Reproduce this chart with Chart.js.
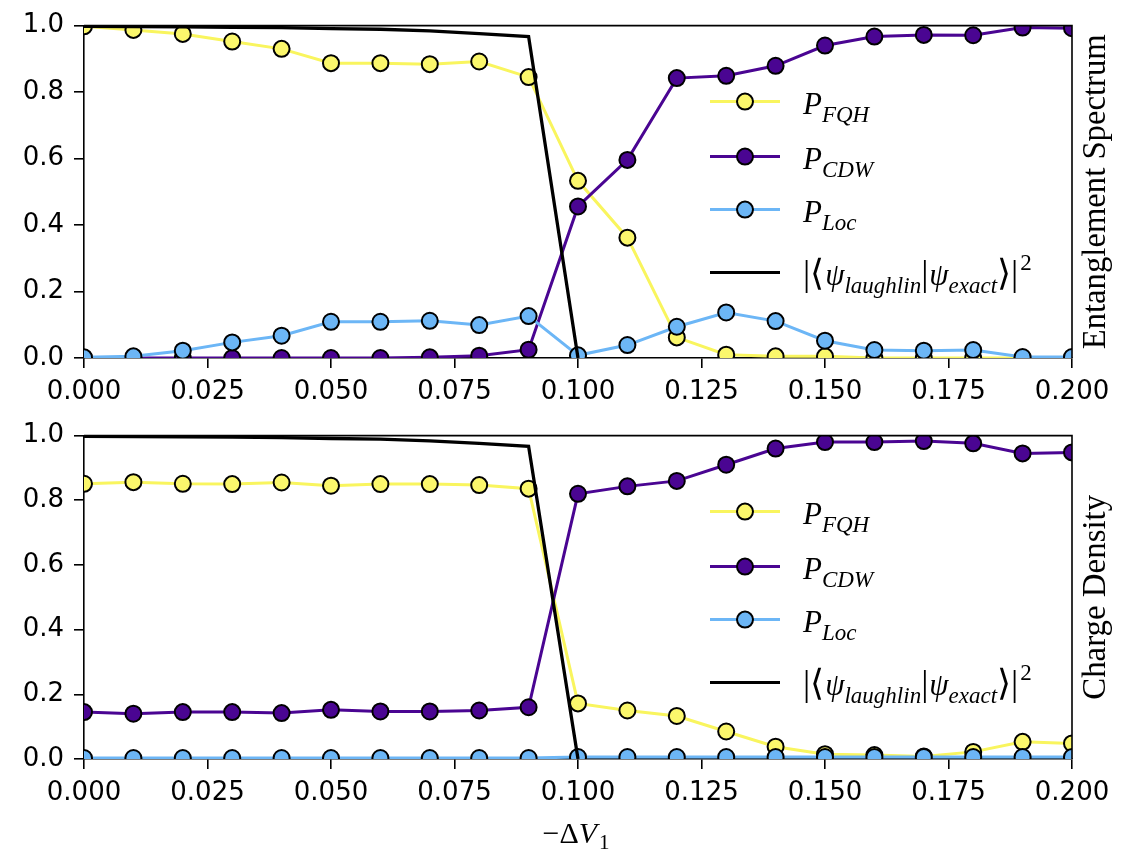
<!DOCTYPE html>
<html>
<head>
<meta charset="utf-8">
<script src="https://cdn.jsdelivr.net/npm/chart.js@4.4.1/dist/chart.umd.min.js"></script>
<style>
  html, body { margin: 0; padding: 0; background: #fff; }
  #wrap { position: relative; width: 1131px; height: 862px; }
  .panel { position: absolute; left: 0; width: 1131px; }
</style>
</head>
<body>
<div id="wrap">
  <div class="panel" style="top:0;height:410px"><canvas id="esChart" width="1131" height="410"></canvas></div>
  <div class="panel" style="top:410px;height:452px"><canvas id="cdChart" width="1131" height="452"></canvas></div>
</div>
<script>
// -dV1 values
const dV = [0, 0.01, 0.02, 0.03, 0.04, 0.05, 0.06, 0.07, 0.08, 0.09, 0.10,
            0.11, 0.12, 0.13, 0.14, 0.15, 0.16, 0.17, 0.18, 0.19, 0.20];

// entanglement spectrum panel
const esFQH = [0.998, 0.987, 0.975, 0.952, 0.930, 0.887, 0.887, 0.884, 0.892, 0.845, 0.533,
               0.362, 0.062, 0.010, 0.005, 0.005, 0.0, 0.0, 0.0, 0.0, 0.0];
const esCDW = [0.0, 0.0, 0.0, 0.0, 0.0, 0.0, 0.0, 0.002, 0.007, 0.025, 0.456,
               0.596, 0.842, 0.849, 0.879, 0.940, 0.967, 0.972, 0.971, 0.994, 0.992];
const esLoc = [0.002, 0.005, 0.022, 0.047, 0.067, 0.109, 0.109, 0.112, 0.099, 0.126, 0.008,
               0.039, 0.094, 0.137, 0.111, 0.052, 0.024, 0.022, 0.024, 0.003, 0.003];

// charge density panel
const cdFQH = [0.851, 0.856, 0.851, 0.850, 0.855, 0.845, 0.850, 0.850, 0.847, 0.836, 0.172,
               0.150, 0.133, 0.085, 0.038, 0.015, 0.012, 0.008, 0.022, 0.053, 0.048];
const cdCDW = [0.145, 0.140, 0.145, 0.145, 0.142, 0.152, 0.147, 0.147, 0.150, 0.160, 0.820,
               0.843, 0.860, 0.910, 0.960, 0.980, 0.980, 0.983, 0.976, 0.945, 0.948];
const cdLoc = [0.003, 0.003, 0.003, 0.003, 0.003, 0.003, 0.003, 0.003, 0.003, 0.003, 0.006,
               0.006, 0.006, 0.006, 0.006, 0.006, 0.006, 0.006, 0.006, 0.006, 0.006];

// |<laughlin|exact>|^2, only up to the transition
const overlapX = [0, 0.01, 0.02, 0.03, 0.04, 0.05, 0.06, 0.07, 0.08, 0.09, 0.10];
const overlap  = [0.998, 0.997, 0.996, 0.995, 0.994, 0.991, 0.989, 0.984, 0.976, 0.967, 0.0];

const xTicks = [0, 0.025, 0.05, 0.075, 0.1, 0.125, 0.15, 0.175, 0.2];

const YELLOW = '#f9f55e', YELLOW_FILL = '#fbf76c';
const PURPLE = '#4a0592', BLUE = '#6cb6f6';

const pts = (xs, ys) => xs.map((x, i) => ({ x: x, y: ys[i] }));

function series(data, color, fill, order) {
  return {
    data: data, borderColor: color, backgroundColor: fill, borderWidth: 3,
    pointRadius: 8, pointHoverRadius: 8, pointBackgroundColor: fill,
    pointBorderColor: '#000', pointBorderWidth: 2, tension: 0, clip: 0, order: order
  };
}

function drawRuns(ctx, x, y, runs) {
  for (const r of runs) {
    ctx.font = r.font;
    ctx.fillText(r.t, x, y + (r.dy || 0));
    x += ctx.measureText(r.t).width + (r.gap || 0);
  }
  return x;
}

const SERIF = '"Liberation Serif", "Times New Roman", serif';
const bigI = 'italic 31px ' + SERIF;
const sub = 'italic 23px ' + SERIF;
const delim = '36px ' + SERIF;

const legendRows = [
  { color: YELLOW, fill: YELLOW_FILL, dy: 76, runs: [{ t: 'P', font: bigI }, { t: 'FQH', font: sub, dy: 8 }] },
  { color: PURPLE, fill: PURPLE, dy: 131, runs: [{ t: 'P', font: bigI }, { t: 'CDW', font: sub, dy: 8 }] },
  { color: BLUE, fill: BLUE, dy: 184, runs: [{ t: 'P', font: bigI }, { t: 'Loc', font: sub, dy: 8 }] },
  { color: '#000', fill: null, dy: 247, runs: [
      { t: '|\u27E8', font: delim, gap: 1 }, { t: '\u03C8', font: bigI },
      { t: 'laughlin', font: sub, dy: 8 }, { t: '|', font: delim, gap: 1 },
      { t: '\u03C8', font: bigI }, { t: 'exact', font: sub, dy: 8 },
      { t: '\u27E9|', font: delim, gap: 2 }, { t: '2', font: '23px ' + SERIF, dy: -15 }] }
];

const decor = {
  id: 'decor',
  afterDraw(chart, args, opts) {
    const ctx = chart.ctx, a = chart.chartArea;
    ctx.save();
    // top and right spines
    ctx.strokeStyle = '#000';
    ctx.lineWidth = 1.6;
    ctx.beginPath();
    ctx.moveTo(a.left, a.top); ctx.lineTo(a.right, a.top); ctx.lineTo(a.right, a.bottom);
    ctx.stroke();

    // legend
    ctx.fillStyle = '#000';
    ctx.textBaseline = 'alphabetic';
    ctx.textAlign = 'left';
    for (const row of legendRows) {
      const y = a.top + row.dy;
      ctx.strokeStyle = row.color;
      ctx.lineWidth = 3;
      ctx.beginPath();
      ctx.moveTo(a.left + 626, y); ctx.lineTo(a.left + 696, y);
      ctx.stroke();
      if (row.fill) {
        ctx.beginPath();
        ctx.arc(a.left + 661, y, 8, 0, Math.PI * 2);
        ctx.fillStyle = row.fill; ctx.fill();
        ctx.lineWidth = 2; ctx.strokeStyle = '#000'; ctx.stroke();
      }
      ctx.fillStyle = '#000';
      drawRuns(ctx, a.left + 719, y + 12, row.runs);
    }

    // right side panel label, sized to its length in the figure
    ctx.save();
    ctx.font = '31px ' + SERIF;
    const size = 31 * opts.sideLen / ctx.measureText(opts.side).width;
    ctx.font = size.toFixed(1) + 'px ' + SERIF;
    ctx.translate(1105, (a.top + a.bottom) / 2);
    ctx.rotate(-Math.PI / 2);
    ctx.textAlign = 'center';
    ctx.fillText(opts.side, 0, 0);
    ctx.restore();

    // x axis title on the lower panel
    if (opts.xTitle) {
      ctx.textAlign = 'left';
      const runs = [{ t: '\u2212\u0394', font: '30px ' + SERIF }, { t: 'V', font: 'italic 30px ' + SERIF, gap: 2 },
                    { t: '1', font: '21px ' + SERIF, dy: 6 }];
      let w = 0;
      for (const r of runs) { ctx.font = r.font; w += ctx.measureText(r.t).width + (r.gap || 0); }
      drawRuns(ctx, 576 - w / 2, 433, runs);
    }
    ctx.restore();
  }
};

function makeChart(id, fqh, cdw, loc, pad, side, sideLen, xTitle) {
  return new Chart(document.getElementById(id), {
    type: 'line',
    data: {
      datasets: [
        series(pts(dV, fqh), YELLOW, YELLOW_FILL, 4),
        series(pts(dV, cdw), PURPLE, PURPLE, 3),
        series(pts(dV, loc), BLUE, BLUE, 2),
        { data: pts(overlapX, overlap), borderColor: '#000', borderWidth: 3.3, pointRadius: 0,
          tension: 0, clip: 0, order: 1 }
      ]
    },
    options: {
      responsive: false,
      animation: false,
      layout: { padding: pad },
      plugins: { legend: { display: false }, tooltip: { enabled: false },
                 decor: { side: side, sideLen: sideLen, xTitle: xTitle } },
      scales: {
        x: {
          type: 'linear', min: 0, max: 0.2,
          afterFit: s => { s.height = 50; },
          afterBuildTicks: s => { s.ticks = xTicks.map(v => ({ value: v })); },
          grid: { drawOnChartArea: false, color: '#000', lineWidth: 1.6, tickLength: 10 },
          border: { color: '#000', width: 1.6 },
          ticks: { color: '#000', padding: 9, maxRotation: 0, autoSkip: false,
                   font: { family: '"DejaVu Sans", sans-serif', size: 26 },
                   callback: v => v.toFixed(3) }
        },
        y: {
          min: 0, max: 1,
          afterFit: s => { s.width = 84; },
          grid: { drawOnChartArea: false, color: '#000', lineWidth: 1.6, tickLength: 10 },
          border: { color: '#000', width: 1.6 },
          ticks: { color: '#000', padding: 10, stepSize: 0.2,
                   font: { family: '"DejaVu Sans", sans-serif', size: 26 },
                   callback: v => v.toFixed(1) }
        }
      }
    },
    plugins: [decor]
  });
}

makeChart('esChart', esFQH, esCDW, esLoc, { top: 24, right: 59, bottom: 2, left: 0 }, 'Entanglement Spectrum', 315, false);
makeChart('cdChart', cdFQH, cdCDW, cdLoc, { top: 16, right: 59, bottom: 53, left: 0 }, 'Charge Density', 205, true);
</script>
</body>
</html>
